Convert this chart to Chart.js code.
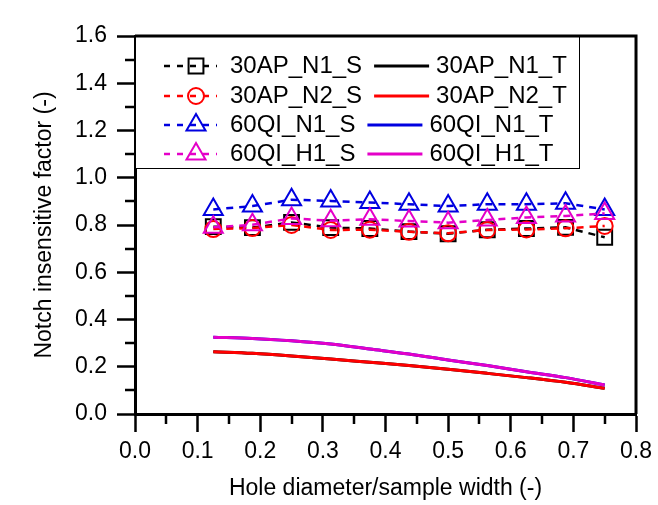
<!DOCTYPE html>
<html>
<head>
<meta charset="utf-8">
<script src="https://cdn.jsdelivr.net/npm/chart.js@4.4.0/dist/chart.umd.min.js"></script>
<style>
  html, body { margin: 0; padding: 0; background: #ffffff; }
  #wrap { width: 658px; height: 505px; }
</style>
</head>
<body>
<div id="wrap"><canvas id="notchChart" width="658" height="505"></canvas></div>
<script>
// ---- data ----
const holeRatio = [0.125, 0.1875, 0.25, 0.3125, 0.375, 0.4375, 0.5, 0.5625, 0.625, 0.6875, 0.75];

const ap30N1S = [0.793, 0.789, 0.811, 0.789, 0.785, 0.772, 0.763, 0.780, 0.785, 0.790, 0.748];
const ap30N2S = [0.783, 0.787, 0.800, 0.779, 0.780, 0.771, 0.765, 0.779, 0.781, 0.786, 0.796];
const qi60N1S = [0.866, 0.880, 0.907, 0.902, 0.895, 0.888, 0.880, 0.888, 0.888, 0.892, 0.866];
const qi60H1S = [0.790, 0.801, 0.828, 0.818, 0.824, 0.817, 0.810, 0.821, 0.832, 0.838, 0.849];

// theory curves (black and blue sit under red and magenta)
const ap30N1T = [0.264, 0.257, 0.246, 0.233, 0.219, 0.205, 0.189, 0.172, 0.154, 0.134, 0.109];
const ap30N2T = [0.264, 0.257, 0.246, 0.233, 0.219, 0.205, 0.189, 0.172, 0.154, 0.134, 0.109];
const qi60N1T = [0.325, 0.320, 0.310, 0.296, 0.275, 0.254, 0.229, 0.205, 0.179, 0.154, 0.123];
const qi60H1T = [0.325, 0.320, 0.310, 0.296, 0.275, 0.254, 0.229, 0.205, 0.179, 0.154, 0.123];

const xMinorTicks = [0.05, 0.15, 0.25, 0.35, 0.45, 0.55, 0.65, 0.75];
const yMinorTicks = [0.1, 0.3, 0.5, 0.7, 0.9, 1.1, 1.3, 1.5];

const FONT = "'Liberation Sans', Arial, sans-serif";
const BLACK = '#000000';
const RED = '#ff0000';
const BLUE = '#0000e0';
const MAGENTA = '#e400c8';

function pts(ys) {
    return holeRatio.map((x, i) => ({ x: x, y: ys[i] }));
}

function testSeries(label, values, color, style, radius, order) {
    return {
        label: label,
        data: pts(values),
        borderColor: color,
        borderWidth: 2.5,
        borderDash: [7, 6],
        pointStyle: style,
        pointRadius: radius,
        pointBorderWidth: 2,
        pointBorderColor: color,
        pointBackgroundColor: 'rgba(0,0,0,0)',
        fill: false,
        order: order
    };
}

function theorySeries(label, values, color, order) {
    return {
        label: label,
        data: pts(values),
        borderColor: color,
        borderWidth: 3,
        pointRadius: 0,
        cubicInterpolationMode: 'monotone',
        fill: false,
        order: order
    };
}

// ---- frame, minor ticks and two-column legend ----
const frameAndLegend = {
    id: 'frameAndLegend',
    afterDraw(chart) {
        const ctx = chart.ctx;
        const area = chart.chartArea;
        const xs = chart.scales.x;
        const ys = chart.scales.y;
        ctx.save();

        // minor ticks
        ctx.strokeStyle = BLACK;
        ctx.lineWidth = 2.5;
        ctx.beginPath();
        yMinorTicks.forEach(v => {
            const p = Math.round(ys.getPixelForValue(v));
            ctx.moveTo(area.left - 10, p);
            ctx.lineTo(area.left, p);
        });
        xMinorTicks.forEach(v => {
            const p = Math.round(xs.getPixelForValue(v));
            ctx.moveTo(p, area.bottom);
            ctx.lineTo(p, area.bottom + 10);
        });
        ctx.stroke();

        // legend box
        const boxRight = 579;
        const boxBottom = 168;
        ctx.fillStyle = '#ffffff';
        ctx.fillRect(area.left, area.top, boxRight - area.left, boxBottom - area.top);
        ctx.lineWidth = 1;
        ctx.strokeStyle = BLACK;
        ctx.strokeRect(area.left + 0.5, area.top + 0.5, boxRight - area.left, boxBottom - area.top);

        const rowY = [66, 96, 125, 154];
        const ds = chart.data.datasets;
        ctx.font = '24px ' + FONT;
        ctx.textBaseline = 'middle';
        ctx.textAlign = 'left';
        for (let i = 0; i < 4; i++) {
            const s = ds[i];
            const t = ds[i + 4];
            const y = rowY[i];

            // dashed sample with marker
            ctx.strokeStyle = s.borderColor;
            ctx.lineWidth = 2.5;
            ctx.setLineDash([6, 7]);
            ctx.beginPath();
            ctx.moveTo(164, y);
            ctx.lineTo(217, y);
            ctx.stroke();
            ctx.setLineDash([]);
            ctx.lineWidth = 2;
            ctx.fillStyle = 'rgba(0,0,0,0)';
            Chart.helpers.drawPoint(ctx, {
                pointStyle: s.pointStyle,
                radius: s.pointRadius,
                borderWidth: 2,
                rotation: 0
            }, 196, y);

            ctx.fillStyle = BLACK;
            ctx.fillText(s.label, 230, y);
            const lineStart = 230 + ctx.measureText(s.label).width + 12;

            ctx.strokeStyle = t.borderColor;
            ctx.lineWidth = 3;
            ctx.beginPath();
            ctx.moveTo(lineStart, y);
            ctx.lineTo(lineStart + 55, y);
            ctx.stroke();
            ctx.fillStyle = BLACK;
            ctx.fillText(t.label, lineStart + 62, y);
        }

        // top and right frame
        ctx.strokeStyle = BLACK;
        ctx.lineWidth = 3;
        ctx.beginPath();
        ctx.moveTo(area.left, area.top);
        ctx.lineTo(area.right, area.top);
        ctx.lineTo(area.right, area.bottom);
        ctx.stroke();
        ctx.restore();
    }
};

Chart.defaults.color = BLACK;
Chart.defaults.font.family = FONT;

new Chart(document.getElementById('notchChart'), {
    type: 'line',
    data: {
        datasets: [
            testSeries('30AP_N1_S', ap30N1S, BLACK, 'rect', 10.5, 8),
            testSeries('30AP_N2_S', ap30N2S, RED, 'circle', 8, 7),
            testSeries('60QI_N1_S', qi60N1S, BLUE, 'triangle', 11, 6),
            testSeries('60QI_H1_S', qi60H1S, MAGENTA, 'triangle', 11, 5),
            theorySeries('30AP_N1_T', ap30N1T, BLACK, 4),
            theorySeries('30AP_N2_T', ap30N2T, RED, 3),
            theorySeries('60QI_N1_T', qi60N1T, BLUE, 2),
            theorySeries('60QI_H1_T', qi60H1T, MAGENTA, 1)
        ]
    },
    options: {
        responsive: false,
        animation: false,
        layout: { padding: { left: 0, top: 36, right: 20, bottom: 0 } },
        plugins: {
            legend: { display: false },
            tooltip: { enabled: false }
        },
        scales: {
            x: {
                type: 'linear',
                min: 0,
                max: 0.8,
                afterFit(scale) { scale.height = 91; },
                border: { display: true, width: 3, color: BLACK },
                grid: {
                    display: true,
                    drawOnChartArea: false,
                    drawTicks: true,
                    tickLength: 18,
                    tickWidth: 2.5,
                    tickColor: BLACK
                },
                ticks: {
                    stepSize: 0.1,
                    autoSkip: false,
                    maxRotation: 0,
                    padding: 6,
                    font: { size: 23 },
                    callback: v => v.toFixed(1)
                },
                title: {
                    display: true,
                    text: 'Hole diameter/sample width (-)',
                    font: { size: 23 },
                    padding: { top: 0, bottom: 3 }
                }
            },
            y: {
                type: 'linear',
                min: 0,
                max: 1.6,
                afterFit(scale) { scale.width = 135; },
                border: { display: true, width: 3, color: BLACK },
                grid: {
                    display: true,
                    drawOnChartArea: false,
                    drawTicks: true,
                    tickLength: 18,
                    tickWidth: 2.5,
                    tickColor: BLACK
                },
                ticks: {
                    stepSize: 0.2,
                    autoSkip: false,
                    padding: 10,
                    font: { size: 23 },
                    callback: v => v.toFixed(1)
                },
                title: {
                    display: true,
                    text: 'Notch insensitive factor (-)',
                    font: { size: 23 },
                    padding: { top: 31, bottom: 0 }
                }
            }
        }
    },
    plugins: [frameAndLegend]
});
</script>
</body>
</html>
